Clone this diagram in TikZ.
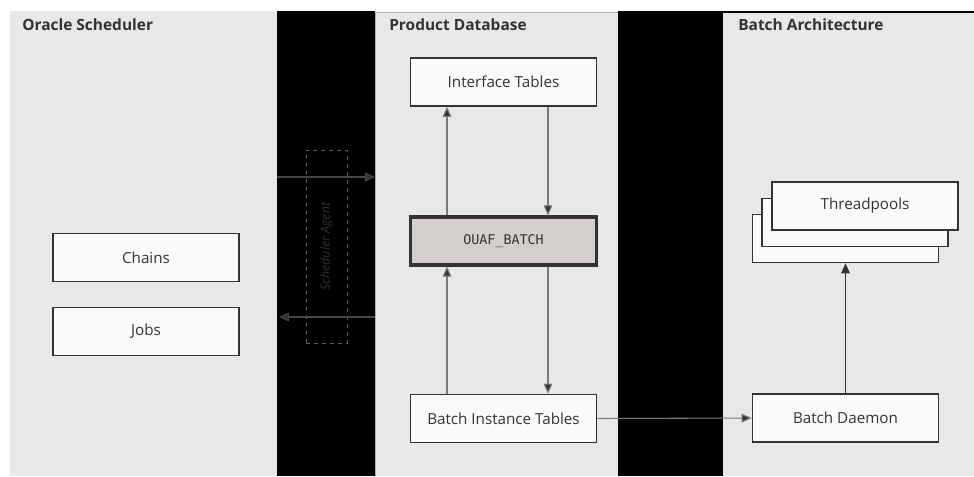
\documentclass[tikz,border=0pt]{standalone}
\usepackage{fontspec}
\setmainfont{Open Sans}
\newfontfamily\monofont{DejaVu Sans Mono}
\usetikzlibrary{arrows.meta}
\definecolor{panel}{HTML}{E9E8E6}
\definecolor{boxfill}{HTML}{FBFAF8}
\definecolor{ouaf}{HTML}{D3CFCC}
\definecolor{ink}{HTML}{333333}
\definecolor{linegray}{HTML}{7A7A7A}
\tikzset{
  box/.style={draw=ink, line width=1.3pt, fill=boxfill, minimum width=139.5pt, minimum height=36pt, inner sep=0pt, font=\fontsize{11.4}{13}\selectfont, text=ink},
  head/.style={anchor=north west, font=\fontsize{11.6}{13}\selectfont\bfseries, text=ink, inner sep=0pt},
  conn/.style={draw=linegray, line width=0.8pt, -{Triangle[length=7.5pt,width=6.5pt,fill=ink]}, shorten >=0pt},
}
\begin{document}
\begin{tikzpicture}[x=0.75pt,y=-0.75pt]
\useasboundingbox (0,0) rectangle (974,476);
\fill[white] (0,0) rectangle (974,476);
% panels
\fill[panel] (10,11) rectangle (277,476);
\fill[black] (277,11) rectangle (375,476);
\fill[panel] (375,12) rectangle (618,476);
\draw[linegray!60, line width=0.5pt] (375,476) -- (375,12) -- (618,12);
\fill[black] (618,11) rectangle (723,476);
\fill[panel] (723,13) rectangle (974,476);
\draw[black, line width=1.2pt] (618,12) -- (974,12);
% headers
\node[head] (h1) at (22,18.5) {Oracle Scheduler};
\node[head] (h2) at (389,18.5) {Product Database};
\node[head] (h3) at (738,18.5) {Batch Architecture};
% nodes
\node[box] (it) at (503.5,82) {Interface Tables};
\node[box, fill=ouaf, line width=2.4pt, font=\monofont\fontsize{10}{12}\selectfont] (ob) at (503.5,241) {OUAF\_BATCH};
\node[box] (bi) at (503.5,418.5) {Batch Instance Tables};
\node[box] (ch) at (146,257.5) {Chains};
\node[box] (jb) at (146,331.5) {Jobs};
\node[box] (tp3) at (845.5,238.5) {};
\node[box] (tp2) at (855,222.5) {};
\node[box] (tp1) at (865,206) {Threadpools};
\node[box] (bd) at (845.5,418) {Batch Daemon};
% scheduler agent
\node[draw=ink!80!white, dashed, line width=0.7pt, minimum width=30.75pt, minimum height=144.75pt, inner sep=0pt] (sa) at (326.5,246.5) {};
\node[rotate=90, font=\itshape\fontsize{9.3}{10}\selectfont, text=ink] (sat) at (sa.center) {Scheduler Agent};
% connectors
\coordinate (a1s) at (277,177);
\coordinate (a1e) at (375,177);
\coordinate (a2s) at (375,317);
\coordinate (a2e) at (279,317);
\draw[conn, draw=ink!90!white] (a1s) -- (a1e);
\draw[conn, draw=ink!90!white] (a2s) -- (a2e);
\draw[conn] (ob.north -| 447,0) -- (it.south -| 447,0);
\draw[conn] (it.south -| 548,0) -- (ob.north -| 548,0);
\draw[conn] (bi.north -| 447,0) -- (ob.south -| 447,0);
\draw[conn] (ob.south -| 548,0) -- (bi.north -| 548,0);
\draw[conn] (bi.east) -- (bd.west);
\draw[conn, draw=ink] (bd.north) -- (tp3.south);
\end{tikzpicture}
\end{document}
